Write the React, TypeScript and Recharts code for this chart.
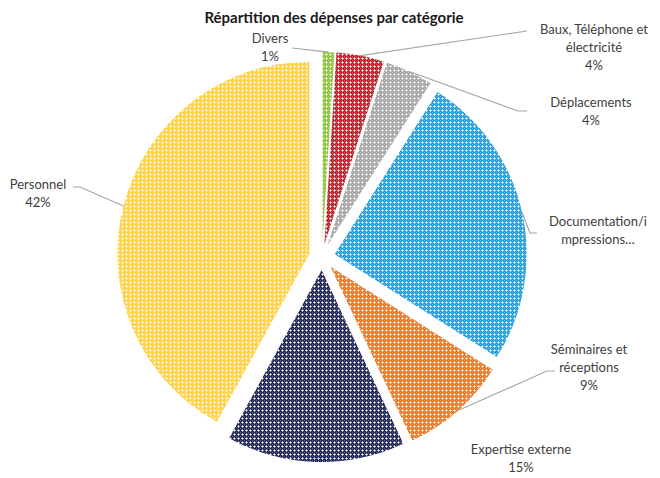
import { PieChart, Pie, Cell, Sector, Tooltip } from "recharts"

const categories = [
  "Divers",
  "Baux, Téléphone et électricité",
  "Déplacements",
  "Documentation/impressions",
  "Séminaires et réceptions",
  "Expertise externe",
  "Personnel",
]
const shares = [1, 4, 4, 25, 9, 15, 42]
const colors = ["#8cc63e", "#c0262d", "#a6a6a6", "#2a9fe0", "#eb7a2a", "#252a5e", "#ffd04a"]

// label text as shown in the chart (Excel wraps / truncates)
const labelText = [
  ["Divers", "1%"],
  ["Baux, Téléphone et", "électricité", "4%"],
  ["Déplacements", "4%"],
  ["Documentation/i", "mpressions…"],
  ["Séminaires et", "réceptions", "9%"],
  ["Expertise externe", "15%"],
  ["Personnel", "42%"],
]

// where each label sits and where its leader line bends
const labelLayout = [
  { x: 270, y: 43, path: [[292, 48]] },
  { x: 594, y: 34, path: [[527, 31]] },
  { x: 591, y: 107, path: [[518, 111], [527, 111]] },
  { x: 598, y: 226, path: [[530, 233], [537, 233]] },
  { x: 589, y: 354, path: [[547, 371], [555, 371]] },
  { x: 521, y: 454, path: [] },
  { x: 38, y: 189, path: [[80, 187], [73, 187]] },
]

const data = categories.map((name, i) => ({ name, value: shares[i] }))

const EXPLODE = 13
const RAD = Math.PI / 180

function ExplodedSector(props: any) {
  const { cx, cy, midAngle } = props
  const dx = EXPLODE * Math.cos(-midAngle * RAD)
  const dy = EXPLODE * Math.sin(-midAngle * RAD)
  return <Sector {...props} cx={cx + dx} cy={cy + dy} stroke="none" />
}

function renderLabel(props: any) {
  const { cx, cy, midAngle, outerRadius, index } = props
  const lay = labelLayout[index]
  const r = outerRadius + EXPLODE
  const sx = cx + r * Math.cos(-midAngle * RAD)
  const sy = cy + r * Math.sin(-midAngle * RAD)
  const pts = [[sx, sy], ...lay.path]
  return (
    <g key={"lbl" + index}>
      {lay.path.length > 0 && (
        <polyline points={pts.map((p) => p.join(",")).join(" ")} fill="none" stroke="#a6a6a6" strokeWidth={1.2} />
      )}
      <text x={lay.x} y={lay.y} textAnchor="middle" fill="#404040" fontSize={13} fontFamily="Lato, sans-serif">
        {labelText[index].map((t, j) => (
          <tspan key={j} x={lay.x} dy={j === 0 ? 0 : 18}>
            {t}
          </tspan>
        ))}
      </text>
    </g>
  )
}

export default function App() {
  return (
    <div style={{ position: "absolute", left: 0, top: 0, background: "#fff" }}>
      <PieChart width={660} height={478} margin={{ top: 0, right: 0, bottom: 0, left: 0 }}>
        <defs>
          {colors.map((c, i) => (
            <pattern key={i} id={"pat" + i} width={4} height={4} patternUnits="userSpaceOnUse">
              <rect width={4} height={4} fill={c} />
              <rect x={2} y={1} width={1} height={3} fill="#fff" opacity={0.6} />
              <rect x={1} y={2} width={3} height={1} fill="#fff" opacity={0.6} />
              <rect x={2} y={2} width={1} height={1} fill="#fff" opacity={0.9} />
              <rect x={0} y={0} width={1} height={1} fill="#fff" opacity={0.25} />
            </pattern>
          ))}
        </defs>
        <text x={334} y={23} textAnchor="middle" fontSize={15} fontWeight="bold" fill="#1a1a1a" fontFamily="Lato, sans-serif">
          Répartition des dépenses par catégorie
        </text>
        <Pie
          data={data}
          dataKey="value"
          nameKey="name"
          cx={322}
          cy={257}
          outerRadius={192}
          startAngle={90}
          endAngle={-270}
          stroke="none"
          shape={ExplodedSector}
          activeShape={ExplodedSector}
          inactiveShape={ExplodedSector}
          label={renderLabel}
          labelLine={false}
          isAnimationActive={false}
        >
          {data.map((_, i) => (
            <Cell key={i} fill={`url(#pat${i})`} />
          ))}
        </Pie>
        <Tooltip defaultIndex={0} content={() => null} cursor={false} />
      </PieChart>
    </div>
  )
}
